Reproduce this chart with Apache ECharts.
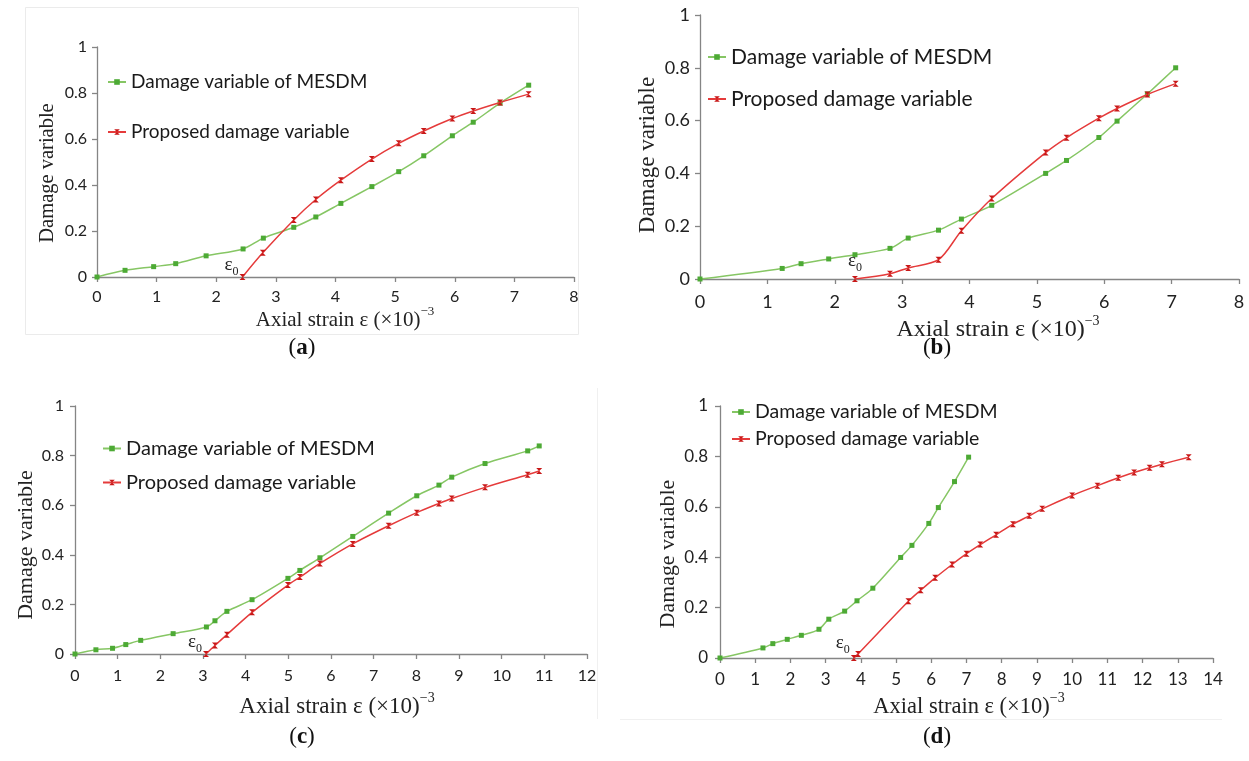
<!DOCTYPE html>
<html>
<head>
<meta charset="utf-8">
<script src="https://cdn.jsdelivr.net/npm/echarts/dist/echarts.min.js"></script>
<style>
html,body{margin:0;padding:0;background:#fff;}
#chart{width:1249px;height:761px;}
</style>
</head>
<body>
<div id="chart"></div>
<script>
// ---------- data (a) ----------
const strainA_mesdm = [0, 0.47, 0.95, 1.32, 1.83, 2.45, 2.79, 3.30, 3.67, 4.09, 4.61, 5.06, 5.48, 5.96, 6.31, 6.76, 7.24];
const damageA_mesdm = [0, 0.029, 0.045, 0.058, 0.092, 0.122, 0.169, 0.216, 0.261, 0.320, 0.393, 0.458, 0.527, 0.614, 0.673, 0.756, 0.834];
const strainA_prop = [2.44, 2.78, 3.30, 3.67, 4.09, 4.61, 5.06, 5.48, 5.96, 6.31, 6.76, 7.24];
const damageA_prop = [0, 0.105, 0.248, 0.337, 0.421, 0.513, 0.581, 0.635, 0.689, 0.722, 0.759, 0.795];
// ---------- data (b) ----------
const strainB_mesdm = [0, 1.22, 1.50, 1.91, 2.30, 2.82, 3.09, 3.54, 3.88, 4.33, 5.13, 5.44, 5.92, 6.19, 6.64, 7.06];
const damageB_mesdm = [0, 0.040, 0.058, 0.076, 0.092, 0.116, 0.155, 0.185, 0.227, 0.279, 0.400, 0.449, 0.536, 0.598, 0.701, 0.800];
const strainB_prop = [2.30, 2.82, 3.09, 3.54, 3.88, 4.33, 5.13, 5.44, 5.92, 6.19, 6.64, 7.06];
const damageB_prop = [0, 0.020, 0.042, 0.073, 0.183, 0.305, 0.479, 0.535, 0.609, 0.646, 0.699, 0.740];
// ---------- data (c) ----------
const strainC_mesdm = [0, 0.49, 0.88, 1.19, 1.54, 2.30, 3.08, 3.28, 3.56, 4.15, 4.99, 5.27, 5.74, 6.51, 7.35, 8.01, 8.53, 8.83, 9.61, 10.61, 10.88];
const damageC_mesdm = [0, 0.017, 0.023, 0.038, 0.055, 0.082, 0.109, 0.134, 0.172, 0.219, 0.305, 0.337, 0.388, 0.474, 0.568, 0.638, 0.681, 0.713, 0.768, 0.819, 0.839];
const strainC_prop = [3.07, 3.28, 3.56, 4.15, 4.99, 5.27, 5.74, 6.51, 7.35, 8.01, 8.53, 8.83, 9.61, 10.61, 10.88];
const damageC_prop = [0, 0.034, 0.078, 0.168, 0.278, 0.310, 0.365, 0.444, 0.517, 0.570, 0.607, 0.627, 0.672, 0.723, 0.738];
// ---------- data (d) ----------
const strainD_mesdm = [0, 1.22, 1.50, 1.91, 2.31, 2.81, 3.09, 3.54, 3.89, 4.34, 5.13, 5.45, 5.93, 6.20, 6.66, 7.06];
const damageD_mesdm = [0, 0.040, 0.057, 0.074, 0.090, 0.114, 0.154, 0.186, 0.227, 0.277, 0.399, 0.447, 0.534, 0.597, 0.700, 0.797];
const strainD_prop = [3.80, 3.92, 5.35, 5.70, 6.11, 6.59, 7.00, 7.39, 7.84, 8.32, 8.78, 9.15, 10.00, 10.72, 11.31, 11.76, 12.20, 12.55, 13.31];
const damageD_prop = [0, 0.016, 0.225, 0.269, 0.318, 0.371, 0.414, 0.450, 0.489, 0.531, 0.564, 0.592, 0.645, 0.684, 0.715, 0.736, 0.755, 0.769, 0.797];

const xMax = [8, 8, 12, 14];
const nameMESDM = 'Damage variable of MESDM';
const nameProp = 'Proposed damage variable';
const yTitle = 'Damage variable';
const panelLetters = ['a', 'b', 'c', 'd'];

// ---------- styling ----------
const GREEN_LINE = '#86c664', GREEN_MARK = '#4daa35';
const RED_LINE = '#e53b3b', RED_MARK = '#c81818';
const AXIS = '#858585';
const SANS = 'Lato';
const SERIF = 'Liberation Serif';
const HOURGLASS = 'path://M0,0L10,0L5,5L10,10L0,10L5,5Z';

const grids = [
  {left: 97, top: 47, width: 477, height: 230},
  {left: 700, top: 15, width: 539, height: 264},
  {left: 75, top: 406, width: 512, height: 248},
  {left: 720, top: 406, width: 493, height: 252}
];
const tickFont = [16, 18, 16, 17];
const xLabelMargin = [12, 14, 14, 13];
const yLabelMargin = [10, 10, 11, 12];

function zip(xs, ys) { return xs.map((x, i) => [x, ys[i]]); }

const epsPos = [
  {position: 'left', distance: 1, offset: [0, -10]},
  {position: 'top', distance: 2, offset: [0, 0]},
  {position: 'left', distance: 1, offset: [0, -10]},
  {position: 'left', distance: 1, offset: [0, -13]}
];

const panels = [
  [strainA_mesdm, damageA_mesdm, strainA_prop, damageA_prop],
  [strainB_mesdm, damageB_mesdm, strainB_prop, damageB_prop],
  [strainC_mesdm, damageC_mesdm, strainC_prop, damageC_prop],
  [strainD_mesdm, damageD_mesdm, strainD_prop, damageD_prop]
];

const xAxes = [], yAxes = [], series = [];
panels.forEach((p, i) => {
  xAxes.push({
    type: 'value', gridIndex: i, min: 0, max: xMax[i], interval: 1,
    axisLine: {show: true, lineStyle: {color: AXIS, width: 1.3}},
    axisTick: {show: true, length: 5, lineStyle: {color: AXIS, width: 1.3}},
    axisLabel: {fontFamily: SANS, fontSize: tickFont[i], color: '#222', margin: xLabelMargin[i]},
    splitLine: {show: false}
  });
  yAxes.push({
    type: 'value', gridIndex: i, min: 0, max: 1, interval: 0.2,
    axisLine: {show: true, lineStyle: {color: AXIS, width: 1.3}},
    axisTick: {show: true, length: 5, lineStyle: {color: AXIS, width: 1.3}},
    axisLabel: {fontFamily: SANS, fontSize: tickFont[i], color: '#222', margin: yLabelMargin[i]},
    splitLine: {show: false}
  });
  series.push({
    name: nameMESDM, type: 'line', xAxisIndex: i, yAxisIndex: i,
    data: zip(p[0], p[1]), smooth: 0.3,
    symbol: 'rect', symbolSize: 5,
    lineStyle: {color: GREEN_LINE, width: 1.5},
    itemStyle: {color: GREEN_MARK},
    z: 2
  });
  const redData = zip(p[2], p[3]).map((d, k) => {
    if (k !== 0) return d;
    return {
      value: d,
      label: Object.assign({
        show: true,
        formatter: '{e|ε}{s|0}',
        rich: {
          e: {fontFamily: SERIF, fontSize: 19, color: '#222', verticalAlign: 'top', lineHeight: 22},
          s: {fontFamily: SERIF, fontSize: 12, color: '#222', verticalAlign: 'bottom', lineHeight: 12}
        }
      }, epsPos[i])
    };
  });
  series.push({
    name: nameProp, type: 'line', xAxisIndex: i, yAxisIndex: i,
    data: redData, smooth: 0.3,
    symbol: HOURGLASS, symbolSize: 6,
    lineStyle: {color: RED_LINE, width: 1.5},
    itemStyle: {color: RED_MARK},
    z: 3
  });
});

const legendCfg = [
  {left: 107, top: 72, font: 19, lh: 20, gap: 30},
  {left: 707, top: 46, font: 21, lh: 22, gap: 20},
  {left: 102, top: 438, font: 20, lh: 21, gap: 13},
  {left: 731, top: 402, font: 19.5, lh: 20, gap: 7}
];
const legends = legendCfg.map(c => ({
  orient: 'vertical', left: c.left, top: c.top, itemGap: c.gap, padding: 0,
  itemWidth: 18, itemHeight: 7,
  textStyle: {fontFamily: SANS, fontSize: c.font, lineHeight: c.lh, color: '#1a1a1a'},
  data: [nameMESDM, nameProp],
  selectedMode: false
}));

// axis titles and panel labels
const yTitles = [
  {x: 48, y: 173, size: 20.5},
  {x: 648, y: 155, size: 23},
  {x: 26, y: 545, size: 22},
  {x: 668, y: 554, size: 21.8}
];
const xTitles = [
  {x: 345, y: 318, size: 21},
  {x: 998, y: 328, size: 24},
  {x: 337, y: 705, size: 23},
  {x: 969, y: 705, size: 22.5}
];
const panelLabelPos = [[302, 348], [937, 348], [302, 737], [937, 737]];

const graphics = [];
// faint frames from the source figure
graphics.push({type: 'rect', shape: {x: 25.5, y: 7.5, width: 553, height: 327}, style: {fill: 'none', stroke: '#ebebeb', lineWidth: 1}, silent: true, z: -1});
graphics.push({type: 'line', shape: {x1: 597.5, y1: 388, x2: 597.5, y2: 719}, style: {stroke: '#f0f0f0', lineWidth: 1}, silent: true, z: -1});
graphics.push({type: 'line', shape: {x1: 620, y1: 719.5, x2: 1222, y2: 719.5}, style: {stroke: '#f0f0f0', lineWidth: 1}, silent: true, z: -1});

yTitles.forEach(t => graphics.push({
  type: 'text', x: t.x, y: t.y, rotation: Math.PI / 2,
  style: {text: yTitle, fontFamily: SERIF, fontSize: t.size, fill: '#222', align: 'center', verticalAlign: 'middle'}
}));
xTitles.forEach(t => graphics.push({
  type: 'text', x: t.x, y: t.y,
  style: {
    text: '{t|Axial strain ε (×10)}{p|−3}', align: 'center', verticalAlign: 'middle',
    rich: {
      t: {fontFamily: SERIF, fontSize: t.size, fill: '#222', verticalAlign: 'bottom', lineHeight: t.size + 4},
      p: {fontFamily: SERIF, fontSize: Math.round(t.size * 0.6), fill: '#222', verticalAlign: 'top', lineHeight: Math.round(t.size * 0.6)}
    }
  }
}));
panelLabelPos.forEach((pos, i) => graphics.push({
  type: 'text', x: pos[0], y: pos[1],
  style: {
    text: '{n|(}{b|' + panelLetters[i] + '}{n|)}', align: 'center', verticalAlign: 'middle',
    rich: {
      n: {fontFamily: SERIF, fontSize: 23, fill: '#111'},
      b: {fontFamily: SERIF, fontSize: 23, fontWeight: 'bold', fill: '#111'}
    }
  }
}));

const chart = echarts.init(document.getElementById('chart'), null, {renderer: 'canvas'});
chart.setOption({
  animation: false,
  backgroundColor: '#ffffff',
  grid: grids,
  xAxis: xAxes,
  yAxis: yAxes,
  legend: legends,
  series: series,
  graphic: graphics
});
</script>
</body>
</html>
